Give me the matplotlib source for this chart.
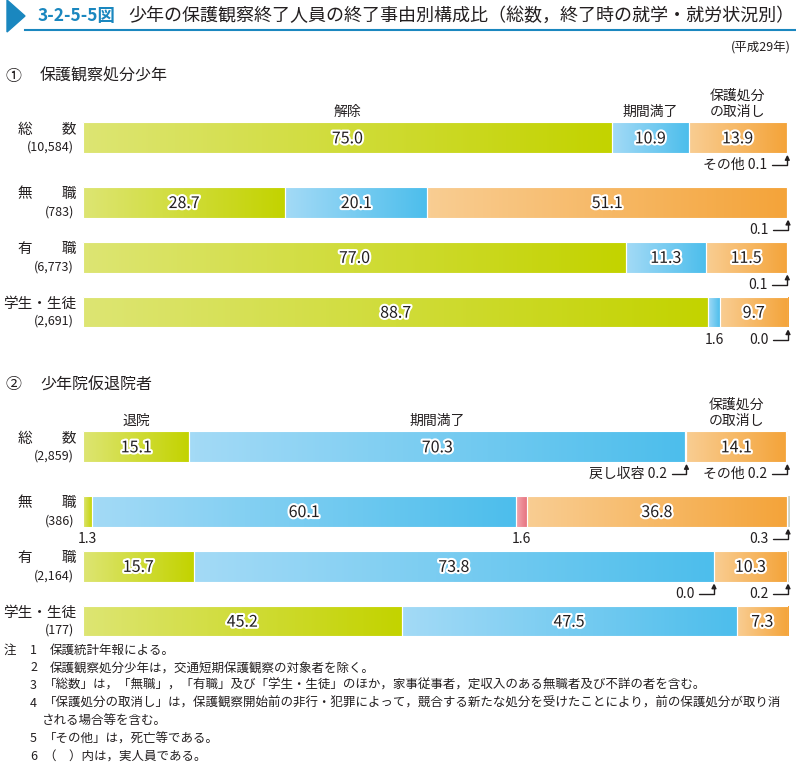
import numpy as np
import matplotlib
matplotlib.use("Agg")
import matplotlib.pyplot as plt
import matplotlib.patheffects as pe
import matplotlib.transforms as mtransforms
from matplotlib.colors import LinearSegmentedColormap
from matplotlib.patches import Polygon

plt.rcParams['font.family'] = ['Noto Sans CJK JP', 'DejaVu Sans']

# --- data ---
rows = ['総　　数', '無　　職', '有　　職', '学生・生徒']
counts1 = ['(10,584)', '(783)', '(6,773)', '(2,691)']
counts2 = ['(2,859)', '(386)', '(2,164)', '(177)']

heads1 = ['解除', '期間満了', '保護処分\nの取消し', 'その他']
heads2 = ['退院', '期間満了', '戻し収容', '保護処分\nの取消し', 'その他']

kaijo = [75.0, 28.7, 77.0, 88.7]
manryo1 = [10.9, 20.1, 11.3, 1.6]
torikeshi1 = [13.9, 51.1, 11.5, 9.7]
sonota1 = [0.1, 0.1, 0.1, 0.0]

taiin = [15.1, 1.3, 15.7, 45.2]
manryo2 = [70.3, 60.1, 73.8, 47.5]
modoshi = [0.2, 1.6, 0.0, 0.0]
torikeshi2 = [14.1, 36.8, 10.3, 7.3]
sonota2 = [0.2, 0.3, 0.2, 0.0]

# small values written outside the bar: (row, segment, prefix, kind)
outside1 = [(0, 3, 'その他 ', 'arrow'), (1, 3, '', 'arrow'), (2, 3, '', 'arrow'),
            (3, 1, '', 'below'), (3, 3, '', 'arrow')]
outside2 = [(0, 2, '戻し収容 ', 'arrow'), (0, 4, 'その他 ', 'arrow'),
            (1, 0, '', 'below'), (1, 2, '', 'below'), (1, 4, '', 'arrow'),
            (2, 2, '', 'arrow'), (2, 4, '', 'arrow')]

notes = [
    ('注', '1', '保護統計年報による。'),
    ('', '2', '保護観察処分少年は，交通短期保護観察の対象者を除く。'),
    ('', '3', '「総数」は，「無職」，「有職」及び「学生・生徒」のほか，家事従事者，定収入のある無職者及び不詳の者を含む。'),
    ('', '4', '「保護処分の取消し」は，保護観察開始前の非行・犯罪によって，競合する新たな処分を受けたことにより，前の保護処分が取り消'),
    ('', '', 'される場合等を含む。'),
    ('', '5', '「その他」は，死亡等である。'),
    ('', '6', '（　）内は，実人員である。'),
]

green = ('#dde572', '#c3d300')
blue = ('#a3daf6', '#4dbeec')
orange = ('#f9cd92', '#f4a43a')
pink = ('#f3a7ae', '#e66f7c')
gray = ('#dfe2d8', '#c9cfc2')

pos = [0, 1.18, 2.18, 3.18]
bh = 0.56
dark = '#231f20'

W, H = 796, 766
fig = plt.figure(figsize=(W / 100, H / 100), dpi=100)


def fx(x):
    return x / W


def fy(y):
    return 1 - y / H


def draw_section(top_px, segs, cols, heads, counts, outside):
    ax = fig.add_axes([fx(83), fy(top_px + 250), 705 / W, 250 / H])
    ax.axis('off')
    data = np.array(segs).T  # rows x segments
    grad = np.linspace(0, 1, 64).reshape(1, -1)
    ends = np.cumsum(data, axis=1)
    for i, vals in enumerate(data):
        left = 0
        for j, v in enumerate(vals):
            if v > 0:
                bar = ax.barh(pos[i], v, left=left, height=bh, color='none',
                              edgecolor='white', linewidth=0.8, zorder=3)[0]
                cmap = LinearSegmentedColormap.from_list('c', cols[j])
                im = ax.imshow(grad, extent=(left, left + v, pos[i] + bh / 2, pos[i] - bh / 2),
                               cmap=cmap, aspect='auto', zorder=2, interpolation='bilinear')
                im.set_clip_path(bar)
                if v >= 5:
                    ax.text(left + v / 2, pos[i] + 0.02, f'{v:.1f}', ha='center', va='center',
                            fontsize=11.5, color=dark, zorder=5,
                            path_effects=[pe.withStroke(linewidth=3, foreground='white')])
            left += v
    # headings above the first row
    for j, name in enumerate(heads):
        v = data[0][j]
        if v >= 5:
            ax.text(ends[0][j] - v / 2, pos[0] - bh / 2 - 0.06, name, ha='center', va='bottom',
                    fontsize=10, color=dark, linespacing=1.25)
    # small values
    for i, j, prefix, kind in outside:
        v = data[i][j]
        ytxt = pos[i] + bh / 2 + 0.22
        if kind == 'below':
            ax.text(ends[i][j] - v / 2, ytxt, f'{v:.1f}', ha='center', va='center',
                    fontsize=10, color=dark)
        else:
            xt = min(ends[i][j], 100)
            ax.text(xt - 2.8, ytxt, f'{prefix}{v:.1f}', ha='right', va='center',
                    fontsize=10, color=dark)
            ax.annotate('', xy=(xt, pos[i] + bh / 2 + 0.03), xytext=(xt - 2.1, ytxt),
                        annotation_clip=False,
                        arrowprops=dict(arrowstyle='-|>', color=dark, lw=1,
                                        mutation_scale=7, shrinkA=0, shrinkB=0,
                                        connectionstyle='angle,angleA=0,angleB=90,rad=0'))
    ax.set_xlim(0, 100)
    ax.set_ylim(3.78, -0.78)
    # row labels
    tr = mtransforms.blended_transform_factory(fig.transFigure, ax.transData)
    for i, name in enumerate(rows):
        ax.text(fx(76), pos[i] - 0.15, name, transform=tr, ha='right', va='center',
                fontsize=10.5, color=dark)
        ax.text(fx(74), pos[i] + 0.17, counts[i], transform=tr, ha='right', va='center',
                fontsize=9, color=dark)
    return ax


draw_section(95, [kaijo, manryo1, torikeshi1, sonota1], [green, blue, orange, gray],
             heads1, counts1, outside1)
draw_section(404, [taiin, manryo2, modoshi, torikeshi2, sonota2],
             [green, blue, pink, orange, gray], heads2, counts2, outside2)

# title
tri = Polygon([(fx(7), fy(0)), (fx(7), fy(32)), (fx(25), fy(16))], closed=True,
              transform=fig.transFigure, color='#1a87bf')
fig.patches.append(tri)
fig.add_artist(plt.Line2D([fx(25), fx(796)], [fy(30), fy(30)], transform=fig.transFigure,
                          color='#1a87bf', lw=1.5))
fig.text(fx(38), fy(16), '3-2-5-5図', ha='left', va='center', fontsize=12.5,
         fontweight='bold', color='#1a87bf')
fig.text(fx(128), fy(16), '少年の保護観察終了人員の終了事由別構成比（総数，終了時の就学・就労状況別）',
         ha='left', va='center', fontsize=13, color=dark)
fig.text(fx(791), fy(48), '(平成29年)', ha='right', va='center', fontsize=9, color=dark)

fig.text(fx(5), fy(76), '①', ha='left', va='center', fontsize=11.5, color=dark)
fig.text(fx(40), fy(76), '保護観察処分少年', ha='left', va='center', fontsize=11.5, color=dark)
fig.text(fx(5), fy(385), '②', ha='left', va='center', fontsize=11.5, color=dark)
fig.text(fx(40), fy(385), '少年院仮退院者', ha='left', va='center', fontsize=11.5, color=dark)

# notes
y = 650
for head, num, txt in notes:
    if head:
        fig.text(fx(4), fy(y), head, ha='left', va='center', fontsize=9, color=dark)
    if num:
        fig.text(fx(30), fy(y), num, ha='left', va='center', fontsize=9, color=dark)
        x0 = 44 if txt.startswith('「') or txt.startswith('（') else 50
    else:
        x0 = 42
    fig.text(fx(x0), fy(y), txt, ha='left', va='center', fontsize=9, color=dark)
    y += 17.8

fig.savefig('out.png', dpi=100)
